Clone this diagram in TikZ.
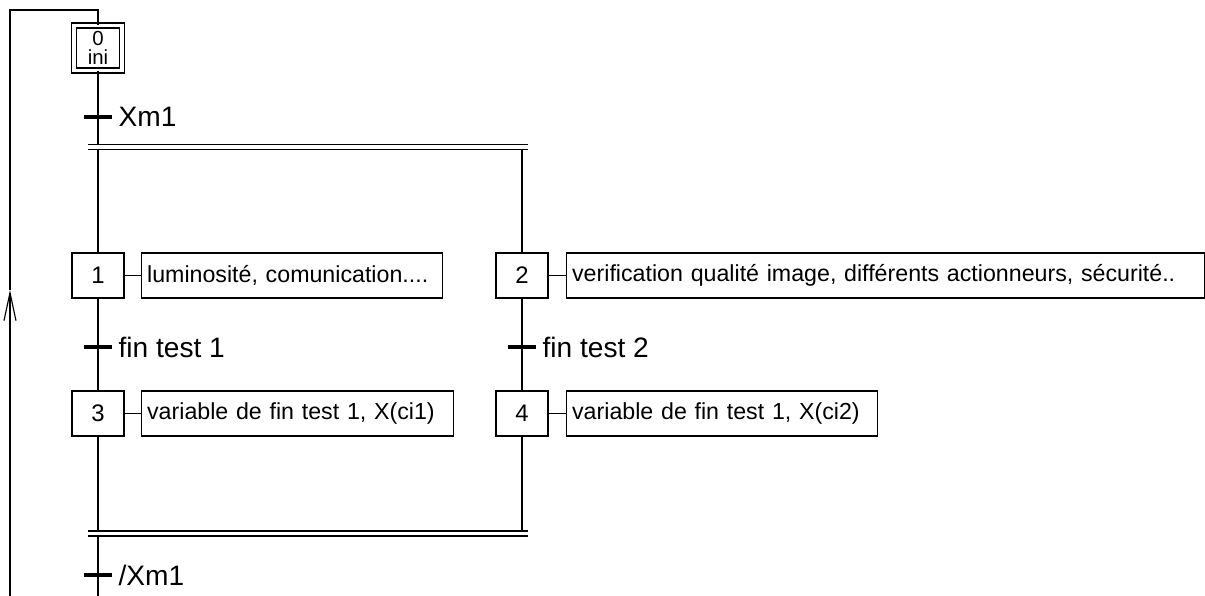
\documentclass[tikz,border=0pt]{standalone}
\usepackage{fontspec}
\setmainfont{Liberation Sans}
\usetikzlibrary{arrows.meta,positioning}

\begin{document}
\begin{tikzpicture} [
  x = 0.025cm,
  y = -0.025cm,
  line width = .8pt,
  stepbox/.style = {draw, minimum width = 1.3cm, minimum height = 1.125cm, inner sep = 0pt, font = \fontsize{17}{19}\selectfont},
  initbox/.style = {stepbox, double, double distance = 2.7pt, minimum width = 1.2cm, align = center, font = \fontsize{14.5}{14}\selectfont},
  actbox/.style = {draw, minimum height = 1.125cm, inner xsep = .15cm, align = left, font = \fontsize{16.5}{19}\selectfont},
  cond/.style = {inner sep = 0pt, font = \fontsize{20}{22}\selectfont},
  tick/.style = {line width = 2.6pt},
  bar/.style = {double, double distance = 2.7pt},
]
\useasboundingbox (0, 0) rectangle (1205, 596);

% steps
\node [initbox] (s0) at (98, 48) {0\\ini};
\node [stepbox] (s1) at (98, 275.5) {1};
\node [stepbox] (s2) at (522, 275.5) {2};
\node [stepbox] (s3) at (98, 413.5) {3};
\node [stepbox] (s4) at (522, 413.5) {4};

% actions
\node [actbox, right = .4cm of s1, text width = 7.225cm] (a1) {luminosité, comunication....};
\node [actbox, right = .425cm of s2, text width = 15.65cm] (a2) {verification qualité image, différents actionneurs, sécurité..};
\node [actbox, right = .4cm of s3, text width = 7.5cm] (a3) {variable de fin test 1, X(ci1)};
\node [actbox, right = .425cm of s4, text width = 7.475cm] (a4) {variable de fin test 1, X(ci2)};
\draw (s1) -- (a1);
\draw (s2) -- (a2);
\draw (s3) -- (a3);
\draw (s4) -- (a4);

% transitions
\coordinate (t0) at (98, 117);
\coordinate (t1) at (98, 347);
\coordinate (t2) at (522, 347);
\coordinate (t3) at (98, 575);
\node [cond, right = .5cm of t0] (c0) {Xm1};
\node [cond, right = .5cm of t1] (c1) {fin test 1};
\node [cond, right = .5cm of t2] (c2) {fin test 2};
\node [cond, right = .5cm of t3] (c3) {/Xm1};

% parallel bars
\coordinate (divL) at (88, 147);
\coordinate (divR) at (528, 147);
\coordinate (conL) at (88, 533.5);
\coordinate (conR) at (528, 533.5);
\coordinate (bot) at (98, 596);

\draw (s0.south) -- (s0 |- divL);
\draw (s1 |- divL) -- (s1.north);
\draw (s2 |- divL) -- (s2.north);
\draw (s1.south) -- (s3.north);
\draw (s2.south) -- (s4.north);
\draw (s3.south) -- (s3 |- conL);
\draw (s4.south) -- (s4 |- conL);
\draw (s3 |- conL) -- (bot);
\draw [bar] (divL) -- (divR);
\draw [bar] (conL) -- (conR);

\foreach \t in {t0, t1, t2, t3}
  \draw [tick] ([xshift = -.35cm]\t) -- ([xshift = .35cm]\t);

% loop back to the initial step
\coordinate (loopB) at (10, 596);
\coordinate (loopA) at (10, 290);
\coordinate (loopT) at (10, 10);
\draw [-{Straight Barb[length = .7cm, width = .3cm]}] (loopB) -- (loopA);
\draw (loopA) -- (loopT) -| (s0.north);
\end{tikzpicture}
\end{document}
